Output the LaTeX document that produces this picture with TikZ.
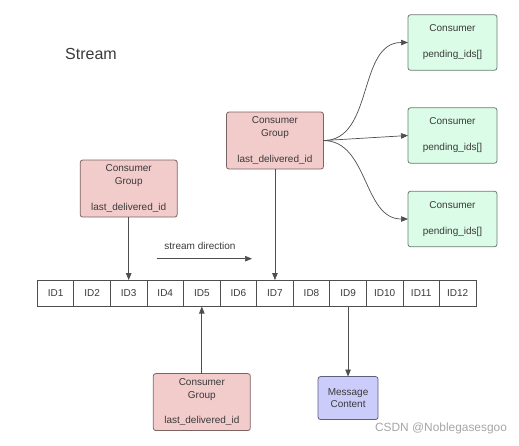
\documentclass[tikz,border=0pt]{standalone}
\usepackage{xcolor}
\usepackage{fontspec}
\setmainfont{Liberation Sans}
\usetikzlibrary{positioning,arrows.meta}
\definecolor{grpfill}{HTML}{F2CBCB}
\definecolor{grpdraw}{HTML}{7D6464}
\definecolor{confill}{HTML}{DBFCE6}
\definecolor{condraw}{HTML}{6C7C70}
\definecolor{msgfill}{HTML}{CCCCFA}
\definecolor{msgdraw}{HTML}{5E5E82}
\definecolor{txtgray}{HTML}{3A3A3A}
\definecolor{linegray}{HTML}{4E4E4E}
\tikzset{
    idcell/.style = {draw=linegray, line width=0.8pt, fill=white, minimum width=36.56pt, minimum height=26.5pt, outer sep=0pt, inner sep=0pt},
    grpbox/.style = {draw=grpdraw, fill=grpfill, rounded corners=2.5pt, line width=0.8pt, minimum width=97pt, minimum height=57pt, align=center, inner sep=0pt, outer sep=0pt},
    conbox/.style = {draw=condraw, fill=confill, rounded corners=2.5pt, line width=0.8pt, minimum width=89pt, minimum height=55.5pt, align=center, inner sep=0pt, outer sep=0pt},
    msgbox/.style = {draw=msgdraw, fill=msgfill, rounded corners=2.5pt, line width=0.8pt, minimum width=60pt, minimum height=43pt, align=center, inner sep=0pt, outer sep=0pt},
    arr/.style = {draw=linegray, line width=0.7pt, -{Triangle[length=7pt,width=5.5pt]}}
}

\begin{document}
\begin{tikzpicture}[x=1pt, y=-1pt, font=\fontsize{10}{12.8}\selectfont, text=txtgray]
\useasboundingbox (0,0) rectangle (519,445);
\node[font=\fontsize{16}{18}\selectfont] (title) at (91,54) {Stream};
% the stream of entries
\node[idcell, anchor=west] (id1) at (37.3,293.3) {ID1};
\node[idcell, right=0pt of id1] (id2) {ID2};
\node[idcell, right=0pt of id2] (id3) {ID3};
\node[idcell, right=0pt of id3] (id4) {ID4};
\node[idcell, right=0pt of id4] (id5) {ID5};
\node[idcell, right=0pt of id5] (id6) {ID6};
\node[idcell, right=0pt of id6] (id7) {ID7};
\node[idcell, right=0pt of id7] (id8) {ID8};
\node[idcell, right=0pt of id8] (id9) {ID9};
\node[idcell, right=0pt of id9] (id10) {ID10};
\node[idcell, right=0pt of id10] (id11) {ID11};
\node[idcell, right=0pt of id11] (id12) {ID12};
% consumer groups
\node[grpbox, above=63pt of id3] (grpa) {Consumer\\Group\\[13pt]last\_delivered\_id};
\node[grpbox, above=111pt of id7] (grpb) {Consumer\\Group\\[13pt]last\_delivered\_id};
\node[grpbox, below=67pt of id5] (grpc) {Consumer\\Group\\[13pt]last\_delivered\_id};
\node[msgbox, below=70pt of id9] (msg) {Message\\Content};
% consumers
\node[conbox] (cona) at (452.5,42.5) {Consumer\\[13.2pt]pending\_ids[]};
\node[conbox] (conb) at (452.5,135.5) {Consumer\\[13.2pt]pending\_ids[]};
\node[conbox] (conc) at (452.5,219) {Consumer\\[13.2pt]pending\_ids[]};
% direction of the stream
\node (dirlabel) at (200,246) {stream direction};
\coordinate (dirstart) at (156.7,258.7);
\coordinate (dirend) at (252,258.7);
\node[text=gray!70, font=\fontsize{11.9}{14}\selectfont] (mark) at (441,428) {CSDN @Noblegasesgoo};
\draw[arr] (dirstart) -- (dirend);
\draw[arr] (grpa) -- (id3);
\draw[arr] (grpb) -- (grpb |- id7.north);
\draw[arr] (grpc) -- (grpc |- id5.south);
\draw[arr] (msg |- id9.south) -- (msg);
\draw[arr] (grpb.east) to[out=0, in=180] (cona.west);
\draw[arr] (grpb.east) -- (conb.west);
\draw[arr] (grpb.east) to[out=0, in=180] (conc.west);
\end{tikzpicture}
\end{document}
